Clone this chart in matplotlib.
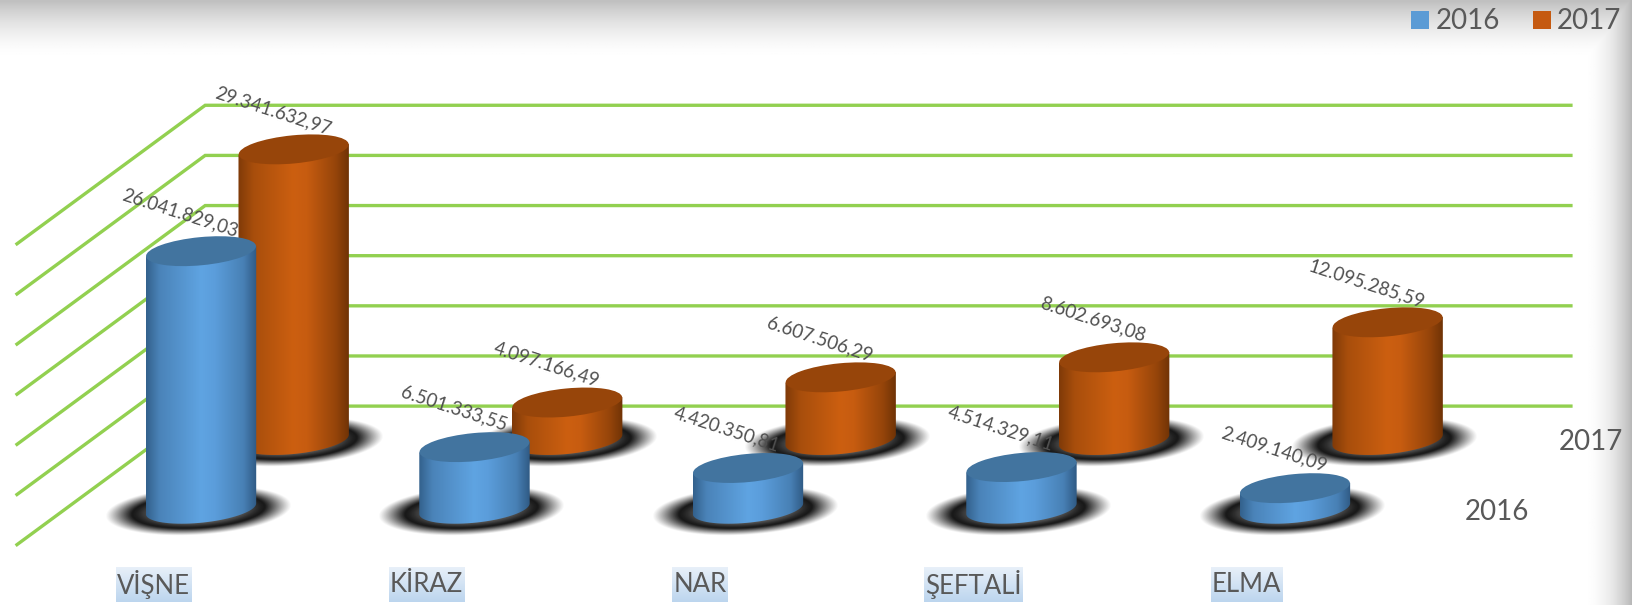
import numpy as np
import matplotlib
matplotlib.use("Agg")
import matplotlib.pyplot as plt
from matplotlib.patches import Ellipse, PathPatch, Rectangle
from matplotlib.path import Path

categories = ["VİŞNE", "KİRAZ", "NAR", "ŞEFTALİ", "ELMA"]
series_names = ["2016", "2017"]
values_2016 = [26041829.03, 6501333.55, 4420350.81, 4514329.11, 2409140.09]
values_2017 = [29341632.97, 4097166.49, 6607506.29, 8602693.08, 12095285.59]
labels_2016 = ["26.041.829,03", "6.501.333,55", "4.420.350,81", "4.514.329,11", "2.409.140,09"]
labels_2017 = ["29.341.632,97", "4.097.166,49", "6.607.506,29", "8.602.693,08", "12.095.285,59"]
grid_values = [0, 5e6, 10e6, 15e6, 20e6, 25e6, 30e6]

plt.rcParams['font.family'] = ['Lato', 'DejaVu Sans']
W, H = 1568, 581
fig = plt.figure(figsize=(16.33, 6.05), dpi=100)
ax = fig.add_axes([0, 0, 1, 1])
ax.set_xlim(0, W); ax.set_ylim(H, 0); ax.axis('off')

# background: grey vignette top and right
yy, xx = np.mgrid[0:H, 0:W]
top = np.clip(1 - yy / 56.0, 0, 1) ** 1.7 * 0.25
right = np.clip((xx - 1518) / 50.0, 0, 1) ** 2.2 * 0.30
bg = 1 - np.maximum(top, right)
ax.imshow(bg, cmap='gray', vmin=0, vmax=1, extent=(0, W, H, 0), aspect='auto', zorder=0)
ax.set_xlim(0, W); ax.set_ylim(H, 0)

GREEN = '#92d050'
TEXT = '#595959'
K = 9.63e-6
for g in grid_values:
    yb = 390 - g * K
    ax.plot([15, 197, 1510], [yb + 134, yb, yb], color=GREEN, lw=2.4, zorder=1,
            solid_joinstyle='miter', solid_capstyle='butt')


def ramp(stops, n=256):
    xs = np.linspace(0, 1, n)
    pos = [s[0] for s in stops]
    cols = np.array([matplotlib.colors.to_rgb(s[1]) for s in stops])
    return np.stack([np.interp(xs, pos, cols[:, i]) for i in range(3)], axis=1)[None, :, :]


BLUE = ramp([(0, '#33618c'), (.12, '#4a83b8'), (.5, '#5fa4e2'), (.62, '#5b9ddb'), (.88, '#4880b5'), (1, '#2f5a84')])
ORANGE = ramp([(0, '#7f3a08'), (.14, '#a84e0c'), (.5, '#cc5f10'), (.62, '#c75c10'), (.88, '#96450a'), (1, '#703306')])
TOPS = ['#42749f', '#97450a']
TILT = -5.5
BW, EH = 106, 27


def shadow(cx, by, z):
    w, h = 170, 45
    x = np.linspace(-1.3, 1.3, 220)
    y = np.linspace(-1.3, 1.3, 90)
    X, Y = np.meshgrid(x, y)
    # tilt the ring slightly, like the cylinder ends
    Y2 = Y + X * 0.22
    r = np.sqrt(X ** 2 + Y2 ** 2)
    a = np.clip((1.05 - r) / 0.30, 0, 1) ** 1.1
    a = a * (1 - 0.4 * np.exp(-(r / 0.64) ** 6))
    rgba = np.zeros(a.shape + (4,)); rgba[..., 3] = a; rgba[..., :3] = 0.06
    ex = (cx - w * 1.3 / 2 - 3, cx + w * 1.3 / 2 - 3, by + h * 1.3 / 2 - 12, by - h * 1.3 / 2 - 12)
    ax.imshow(rgba, extent=ex, aspect='auto', zorder=z, interpolation='bilinear')


def cylinder(cx, by, ty, cmap, topc, z):
    l, r = cx - BW / 2, cx + BW / 2
    dy = (BW / 2) * np.tan(np.radians(-TILT))
    t = np.linspace(0, np.pi, 40)
    bx = cx - (BW / 2) * np.cos(t)
    base_y = by - EH / 2 + (EH / 2) * np.sin(t) - dy * (-np.cos(t))
    verts = list(zip(bx, base_y)) + [(r, ty - dy), (l, ty + dy), (bx[0], base_y[0])]
    clip = PathPatch(Path(verts), transform=ax.transData, fc='none', ec='none')
    ax.add_patch(clip)
    im = ax.imshow(cmap, extent=(l, r, by + 5, ty - 30), aspect='auto', zorder=z, interpolation='bilinear')
    im.set_clip_path(clip)
    ax.add_patch(Ellipse((cx, ty), BW, EH, angle=TILT, fc=topc, ec='none', zorder=z + .1))


series = [(values_2017, labels_2017, 229 + 53, 424, ORANGE, TOPS[1], 10),
          (values_2016, labels_2016, 140 + 53, 490, BLUE, TOPS[0], 20)]
for vals, labs, x0, base, cm, tc, z in series:
    for i, (v, lab) in enumerate(zip(vals, labs)):
        cx = x0 + i * 262.6
        ty = base + 2 - v * K
        shadow(cx, base + 12, z)
        ax.text(cx - 20, ty - 37, lab, rotation=-18, rotation_mode='anchor', ha='center', va='center',
                fontsize=13.4, color='#505050', zorder=z + .5)
        cylinder(cx, base + 12, ty, cm, tc, z + 1)

# category labels with highlight
hl = ramp([(0, '#e8f0f9'), (1, '#bcd5ee')])
for i, c in enumerate(categories):
    cx = 147 + i * 262.5
    t = ax.text(cx, 561, c, ha='center', va='center', fontsize=18.5, color=TEXT, zorder=31)
    fig.canvas.draw()
    bb = t.get_window_extent().transformed(ax.transData.inverted())
    x0, x1 = sorted([bb.x0, bb.x1])
    ax.imshow(np.transpose(hl, (1, 0, 2)), extent=(x0 - 1, x1 + 1, 578, 545), aspect='auto', zorder=30)

# series depth labels
ax.text(1528, 424, series_names[1], ha='center', va='center', fontsize=20, color=TEXT, zorder=31)
ax.text(1437, 492, series_names[0], ha='center', va='center', fontsize=20, color=TEXT, zorder=31)

# legend
for sx, tx, col, name in [(1355, 1379, '#5b9bd5', series_names[0]), (1472, 1495, '#c55a11', series_names[1])]:
    ax.add_patch(Rectangle((sx, 11), 17, 17, fc=col, ec='none', zorder=32))
    ax.text(tx, 20, name, ha='left', va='center', fontsize=20, color=TEXT, zorder=32)

ax.set_xlim(0, W); ax.set_ylim(H, 0)
fig.savefig('out.png', dpi=100)
